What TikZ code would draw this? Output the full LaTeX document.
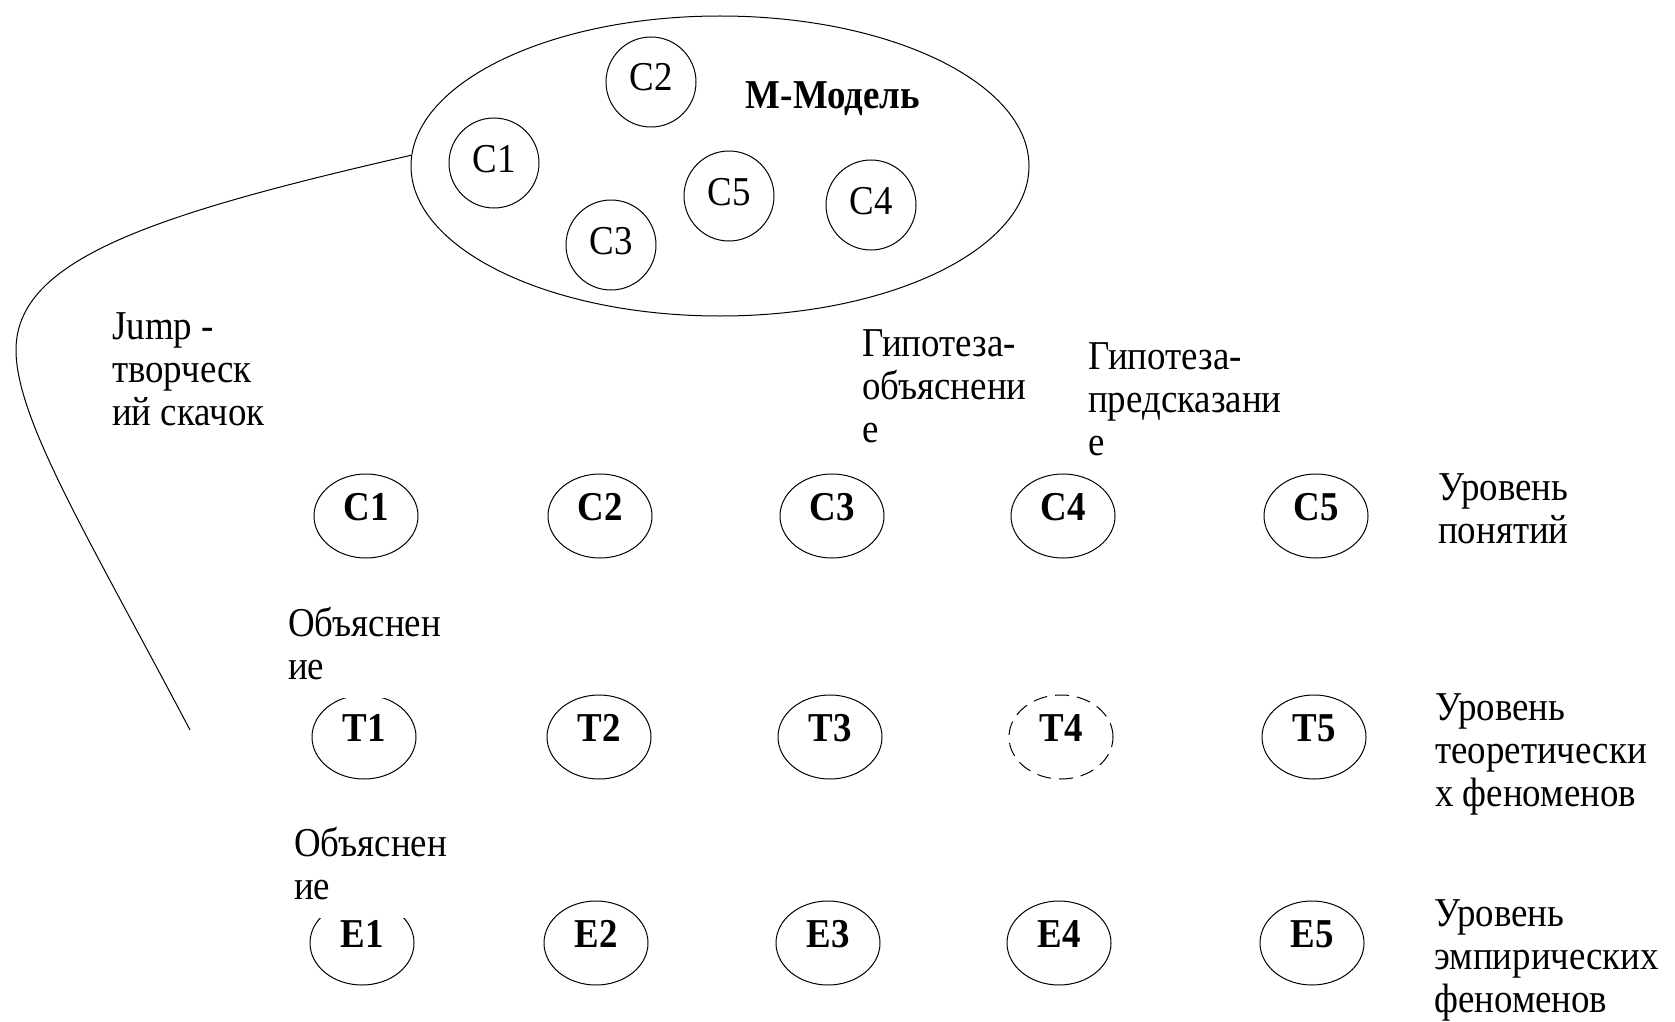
\documentclass[tikz,border=0pt]{standalone}
\usepackage{fontspec}
\setmainfont{Liberation Serif}[FakeStretch=0.9]
\usetikzlibrary{shapes.geometric}

\tikzset{
  modelell/.style={draw, ellipse, line width=1pt, minimum width=618pt, minimum height=300pt},
  conceptcirc/.style={draw, circle, line width=1pt, minimum size=90pt, inner sep=0pt, text height=28pt, text depth=10pt},
  levelnode/.style={draw, ellipse, line width=1pt, minimum width=104pt, minimum height=84pt, inner sep=0pt, font=\bfseries, text height=28pt, text depth=20pt},
  guessnode/.style={levelnode, dash pattern=on 14pt off 8pt},
  textbox/.style={anchor=base west, align=left, fill=white, inner sep=6pt}
}

\begin{document}
\fontsize{41}{43}\selectfont
\begin{tikzpicture}[x=1pt, y=-1pt]
\useasboundingbox (0,0) rectangle (1675,1022);

% M-Model with its concepts
\node[modelell] (model) at (720,166) {};
\node[conceptcirc] (m1) at (494,163) {C1};
\node[conceptcirc] (m2) at (651,82) {C2};
\node[conceptcirc] (m3) at (611,245) {C3};
\node[conceptcirc] (m4) at (871,205) {C4};
\node[conceptcirc] (m5) at (729,196) {C5};
\node[font=\bfseries] (mname) at (833,99) {M-Модель};

% the jump
\coordinate (jumpend) at (190,730);
\draw[line width=1pt] (model.178) .. controls (150,215) and (16,260) .. (16,350)
  .. controls (16,420) and (90,540) .. (jumpend);
\node[textbox] (jump) at (106,425) {Jump -\\творческ\\ий скачок};

% concept level
\node[levelnode] (c1) at (366,516) {C1};
\node[levelnode] (c2) at (600,516) {C2};
\node[levelnode] (c3) at (832,516) {C3};
\node[levelnode] (c4) at (1063,516) {C4};
\node[levelnode] (c5) at (1316,516) {C5};

% theoretical level
\node[levelnode] (t1) at (364,737) {T1};
\node[levelnode] (t2) at (599,737) {T2};
\node[levelnode] (t3) at (830,737) {T3};
\node[guessnode] (t4) at (1061,737) {T4};
\node[levelnode] (t5) at (1314,737) {T5};

% empirical level
\node[levelnode] (e1) at (362,943) {E1};
\node[levelnode] (e2) at (596,943) {E2};
\node[levelnode] (e3) at (828,943) {E3};
\node[levelnode] (e4) at (1059,943) {E4};
\node[levelnode] (e5) at (1312,943) {E5};

% labels (anchored at the baseline of the last line)
\node[textbox] (hypexpl) at (856,442) {Гипотеза-\\объяснени\\е};
\node[textbox] (hyppred) at (1082,455) {Гипотеза-\\предсказани\\е};
\node[textbox] (expl1) at (282,679) {Объяснен\\ие\strut};
\node[textbox] (expl2) at (288,899) {Объяснен\\ие\strut};
\node[textbox] (lvlc) at (1432,543) {Уровень\\понятий};
\node[textbox] (lvlt) at (1429,806) {Уровень\\теоретически\\х феноменов};
\node[textbox] (lvle) at (1428,1012) {Уровень\\эмпирических\\феноменов};

\end{tikzpicture}
\end{document}
